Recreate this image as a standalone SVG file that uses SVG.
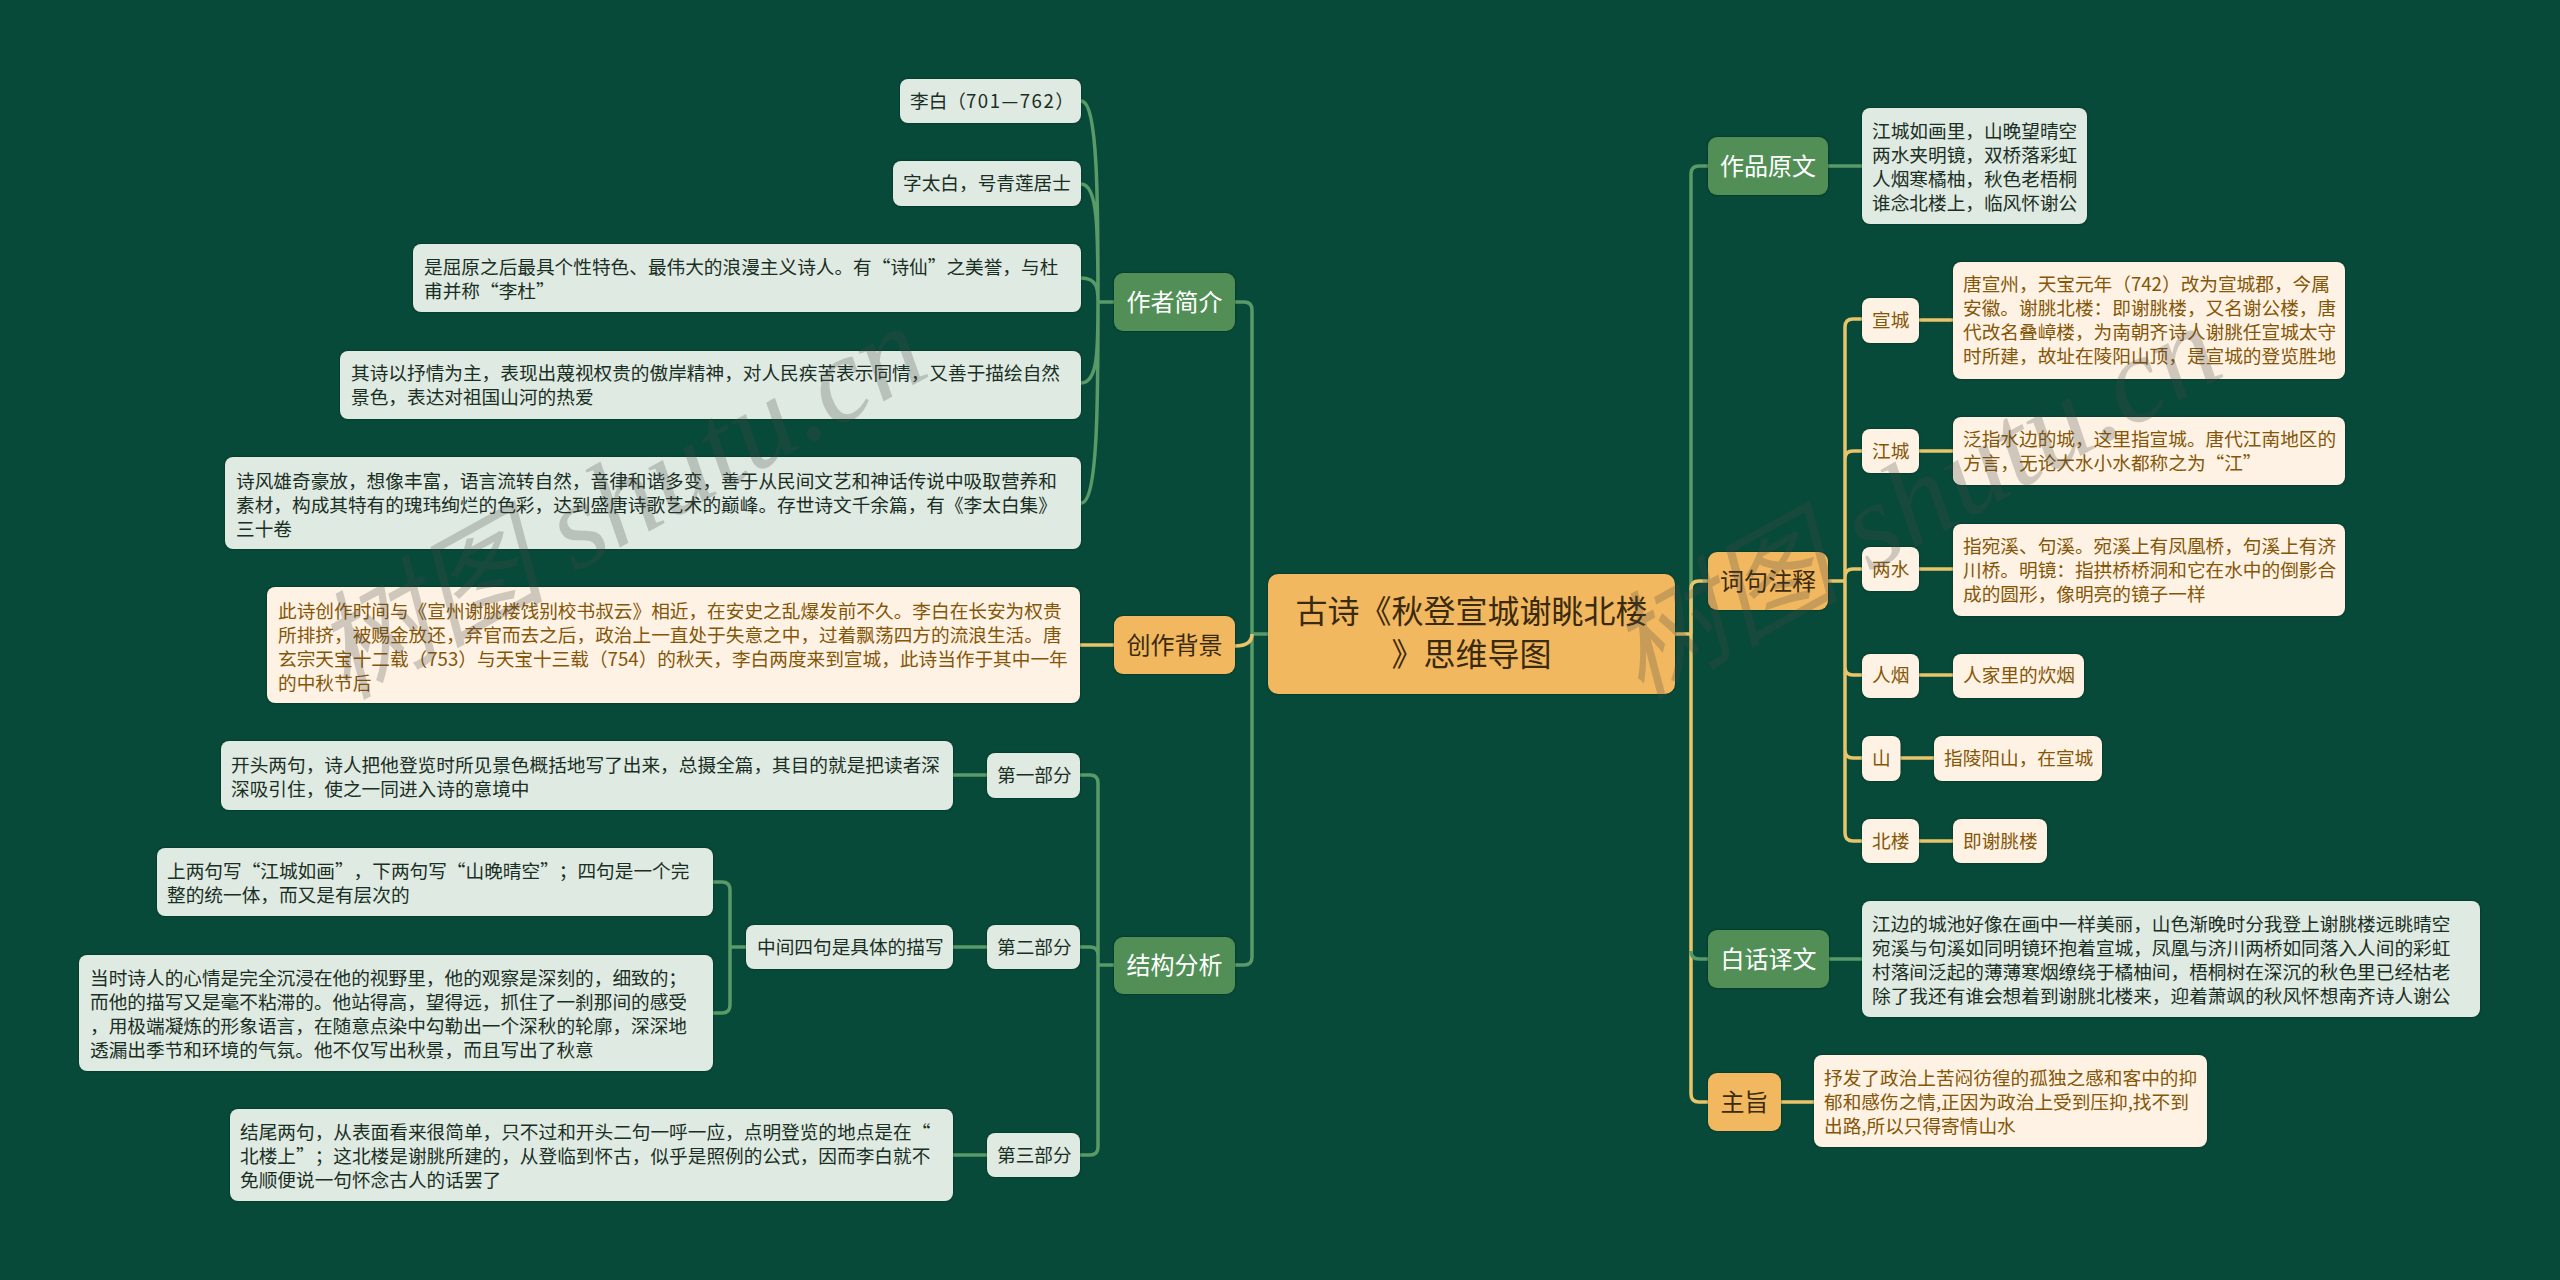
<svg xmlns="http://www.w3.org/2000/svg" width="2560" height="1280" viewBox="0 0 2560 1280">
<style>
text{font-family:"Noto Sans CJK SC","Liberation Sans",sans-serif;font-size:18.67px;text-spacing-trim:space-all}
rect.g1,rect.o1,rect.g2,rect.o2{filter:drop-shadow(0 0 1px rgba(0,20,10,.6))}
.g1{fill:#528f57}.o1{fill:#f2b85f}.g2{fill:#dfeae2}.o2{fill:#fdf2e3}
.tg{fill:#1a2f24}.to{fill:#855608}.tm{font-size:24px;text-anchor:middle}.tw{fill:#fff}.td{fill:#3a2a10}
.c{fill:none;stroke-width:3.5}.cg{stroke:#5a9a68}.co{stroke:#e9c46a}
text.wm{font-family:"Liberation Serif","Noto Sans CJK SC",serif;font-style:italic;font-size:122px;fill:#484848;fill-opacity:.25}
.wc{font-size:116px}
</style>
<rect width="2560" height="1280" fill="#074a39"/>
<g id="connectors">
<path class="c cg" d="M1268 634H1252M1252 634V310Q1252 302 1244 302H1235M1252 634V957Q1252 965 1244 965H1235"/>
<path class="c co" d="M1252 634Q1252 646 1235 646"/>
<path class="c cg" d="M1114 302H1098M1098 302C1098 200 1098 101 1081 101M1098 302C1098 230 1098 184 1081 184M1098 302C1098 290 1098 278 1081 278M1098 302C1098 350 1098 383 1081 383M1098 302C1098 400 1098 503 1081 503"/>
<path class="c co" d="M1114 645H1080"/>
<path class="c cg" d="M1114 965H1098M1080 775H1090Q1098 775 1098 783V1147Q1098 1155 1090 1155H1080M1080 947H1090Q1098 947 1098 955"/>
<path class="c cg" d="M987 775H953M987 947H953M987 1155H953M746 947H730M713 882H722Q730 882 730 890V1005Q730 1013 722 1013H713"/>
<path class="c cg" d="M1691 634V174Q1691 166 1699 166H1708M1828 166H1862"/>
<path class="c co" d="M1675 634H1691M1691 634V589Q1691 581 1699 581H1708M1691 634V1094Q1691 1102 1699 1102H1708M1781 1102H1814"/>
<path class="c cg" d="M1691 951Q1691 959 1699 959H1708M1829 959H1862"/>
<path class="c co" d="M1828 581H1845M1845 327Q1845 319 1853 319H1862M1845 327V833Q1845 841 1853 841H1862M1845 459Q1845 451 1853 451H1862M1845 577Q1845 569 1853 569H1862M1845 667Q1845 675 1853 675H1862M1845 750Q1845 758 1853 758H1862"/>
<path class="c co" d="M1919 320H1953M1919 451H1953M1919 569H1953M1919 675H1953M1900 758H1934M1919 841H1953"/>
</g>
<g id="root"><rect class="o1" x="1268" y="574" width="407" height="120" rx="10"/><text class="td" style="font-size:32px;text-anchor:middle" x="1471.5" y="623">古诗《秋登宣城谢眺北楼</text><text class="td" style="font-size:32px;text-anchor:middle" x="1471.5" y="666">》思维导图</text></g>
<g id="n-zuozhe"><rect class="g1" x="1114" y="273" width="121" height="58" rx="9"/><text class="tm tw" x="1174.5" y="310.5">作者简介</text></g>
<g id="n-beijing"><rect class="o1" x="1114" y="616" width="121" height="58" rx="9"/><text class="tm td" x="1174.5" y="653.5">创作背景</text></g>
<g id="n-jiegou"><rect class="g1" x="1114" y="937" width="121" height="57" rx="9"/><text class="tm tw" x="1174.5" y="974">结构分析</text></g>
<g id="n-yuanwen"><rect class="g1" x="1708" y="137" width="120" height="58" rx="9"/><text class="tm tw" x="1768" y="174.5">作品原文</text></g>
<g id="n-zhushi"><rect class="o1" x="1708" y="552" width="120" height="58" rx="9"/><text class="tm td" x="1768" y="589.5">词句注释</text></g>
<g id="n-yiwen"><rect class="g1" x="1708" y="930" width="121" height="58" rx="9"/><text class="tm tw" x="1768.5" y="967.5">白话译文</text></g>
<g id="n-zhuzhi"><rect class="o1" x="1708" y="1073" width="73" height="58" rx="9"/><text class="tm td" x="1744.5" y="1110.5">主旨</text></g>
<g id="a1"><rect class="g2" x="900" y="79" width="181" height="44" rx="8"/><text class="tg" x="910" y="107.5">李白（<tspan letter-spacing="1.5">701—762</tspan>）</text></g>
<g id="a2"><rect class="g2" x="893" y="161" width="188" height="45" rx="8"/><text class="tg" x="903" y="190">字太白，号青莲居士</text></g>
<g id="a3"><rect class="g2" x="413" y="244" width="668" height="68" rx="8"/><text class="tg" x="424" y="273.5">是屈原之后最具个性特色、最伟大的浪漫主义诗人。有“诗仙”之美誉，与杜</text><text class="tg" x="424" y="297.5">甫并称“李杜”</text></g>
<g id="a4"><rect class="g2" x="340" y="351" width="741" height="68" rx="8"/><text class="tg" x="351" y="379.5">其诗以抒情为主，表现出蔑视权贵的傲岸精神，对人民疾苦表示同情，又善于描绘自然</text><text class="tg" x="351" y="403.5">景色，表达对祖国山河的热爱</text></g>
<g id="a5"><rect class="g2" x="225" y="457" width="856" height="92" rx="8"/><text class="tg" x="236" y="487.5">诗风雄奇豪放，想像丰富，语言流转自然，音律和谐多变，善于从民间文艺和神话传说中吸取营养和</text><text class="tg" x="236" y="511.5">素材，构成其特有的瑰玮绚烂的色彩，达到盛唐诗歌艺术的巅峰。存世诗文千余篇，有《李太白集》</text><text class="tg" x="236" y="535.5">三十卷</text></g>
<g id="b1"><rect class="o2" x="267" y="587" width="813" height="116" rx="8"/><text class="to" x="278" y="617.5">此诗创作时间与《宣州谢朓楼饯别校书叔云》相近，在安史之乱爆发前不久。李白在长安为权贵</text><text class="to" x="278" y="641.5">所排挤，被赐金放还，弃官而去之后，政治上一直处于失意之中，过着飘荡四方的流浪生活。唐</text><text class="to" x="278" y="665.5">玄宗天宝十二载（753）与天宝十三载（754）的秋天，李白两度来到宣城，此诗当作于其中一年</text><text class="to" x="278" y="689.5">的中秋节后</text></g>
<g id="s1"><rect class="g2" x="987" y="753" width="93" height="45" rx="8"/><text class="tg" x="997" y="782">第一部分</text></g>
<g id="s2"><rect class="g2" x="987" y="925" width="93" height="44" rx="8"/><text class="tg" x="997" y="953.5">第二部分</text></g>
<g id="s3"><rect class="g2" x="987" y="1133" width="93" height="44" rx="8"/><text class="tg" x="997" y="1161.5">第三部分</text></g>
<g id="s2m"><rect class="g2" x="746" y="925" width="207" height="44" rx="8"/><text class="tg" x="757" y="953.5">中间四句是具体的描写</text></g>
<g id="s1t"><rect class="g2" x="221" y="741" width="732" height="69" rx="8"/><text class="tg" x="231" y="771.5">开头两句，诗人把他登览时所见景色概括地写了出来，总摄全篇，其目的就是把读者深</text><text class="tg" x="231" y="795.5">深吸引住，使之一同进入诗的意境中</text></g>
<g id="s2a"><rect class="g2" x="157" y="848" width="556" height="68" rx="8"/><text class="tg" x="167" y="877.5">上两句写“江城如画”，下两句写“山晚晴空”；四句是一个完</text><text class="tg" x="167" y="901.5">整的统一体，而又是有层次的</text></g>
<g id="s2b"><rect class="g2" x="79" y="955" width="634" height="116" rx="8"/><text class="tg" x="90" y="984.5">当时诗人的心情是完全沉浸在他的视野里，他的观察是深刻的，细致的；</text><text class="tg" x="90" y="1008.5">而他的描写又是毫不粘滞的。他站得高，望得远，抓住了一刹那间的感受</text><text class="tg" x="90" y="1032.5">，用极端凝炼的形象语言，在随意点染中勾勒出一个深秋的轮廓，深深地</text><text class="tg" x="90" y="1056.5">透漏出季节和环境的气氛。他不仅写出秋景，而且写出了秋意</text></g>
<g id="s3t"><rect class="g2" x="230" y="1109" width="723" height="92" rx="8"/><text class="tg" x="240" y="1138.5">结尾两句，从表面看来很简单，只不过和开头二句一呼一应，点明登览的地点是在“</text><text class="tg" x="240" y="1162.5">北楼上”；这北楼是谢朓所建的，从登临到怀古，似乎是照例的公式，因而李白就不</text><text class="tg" x="240" y="1186.5">免顺便说一句怀念古人的话罢了</text></g>
<g id="r1"><rect class="g2" x="1862" y="108" width="225" height="116" rx="8"/><text class="tg" x="1872" y="137.5">江城如画里，山晚望晴空</text><text class="tg" x="1872" y="161.5">两水夹明镜，双桥落彩虹</text><text class="tg" x="1872" y="185.5">人烟寒橘柚，秋色老梧桐</text><text class="tg" x="1872" y="209.5">谁念北楼上，临风怀谢公</text></g>
<g id="w1"><rect class="o2" x="1862" y="298" width="57" height="45" rx="8"/><text class="to" x="1872" y="327">宣城</text></g>
<g id="w1t"><rect class="o2" x="1953" y="262" width="392" height="117" rx="8"/><text class="to" x="1963" y="291">唐宣州，天宝元年（742）改为宣城郡，今属</text><text class="to" x="1963" y="315">安徽。谢朓北楼：即谢朓楼，又名谢公楼，唐</text><text class="to" x="1963" y="339">代改名叠嶂楼，为南朝齐诗人谢朓任宣城太守</text><text class="to" x="1963" y="363">时所建，故址在陵阳山顶，是宣城的登览胜地</text></g>
<g id="w2"><rect class="o2" x="1862" y="429" width="57" height="44" rx="8"/><text class="to" x="1872" y="457.5">江城</text></g>
<g id="w2t"><rect class="o2" x="1953" y="417" width="392" height="68" rx="8"/><text class="to" x="1963" y="445.5">泛指水边的城，这里指宣城。唐代江南地区的</text><text class="to" x="1963" y="469.5">方言，无论大水小水都称之为“江”</text></g>
<g id="w3"><rect class="o2" x="1862" y="547" width="57" height="44" rx="8"/><text class="to" x="1872" y="575.5">两水</text></g>
<g id="w3t"><rect class="o2" x="1953" y="524" width="392" height="92" rx="8"/><text class="to" x="1963" y="552.5">指宛溪、句溪。宛溪上有凤凰桥，句溪上有济</text><text class="to" x="1963" y="576.5">川桥。明镜：指拱桥桥洞和它在水中的倒影合</text><text class="to" x="1963" y="600.5">成的圆形，像明亮的镜子一样</text></g>
<g id="w4"><rect class="o2" x="1862" y="654" width="57" height="44" rx="8"/><text class="to" x="1872" y="682">人烟</text></g>
<g id="w4t"><rect class="o2" x="1953" y="654" width="131" height="44" rx="8"/><text class="to" x="1963" y="682">人家里的炊烟</text></g>
<g id="w5"><rect class="o2" x="1862" y="736" width="38.500" height="45" rx="8"/><text class="to" x="1872" y="765">山</text></g>
<g id="w5t"><rect class="o2" x="1934" y="736" width="168" height="45" rx="8"/><text class="to" x="1944" y="765">指陵阳山，在宣城</text></g>
<g id="w6"><rect class="o2" x="1862" y="819" width="57" height="44" rx="8"/><text class="to" x="1872" y="847.5">北楼</text></g>
<g id="w6t"><rect class="o2" x="1953" y="819" width="94" height="44" rx="8"/><text class="to" x="1963" y="847.5">即谢朓楼</text></g>
<g id="y1"><rect class="g2" x="1862" y="901" width="618" height="116" rx="8"/><text class="tg" x="1872" y="931">江边的城池好像在画中一样美丽，山色渐晚时分我登上谢朓楼远眺晴空</text><text class="tg" x="1872" y="955">宛溪与句溪如同明镜环抱着宣城，凤凰与济川两桥如同落入人间的彩虹</text><text class="tg" x="1872" y="979">村落间泛起的薄薄寒烟缭绕于橘柚间，梧桐树在深沉的秋色里已经枯老</text><text class="tg" x="1872" y="1003">除了我还有谁会想着到谢朓北楼来，迎着萧飒的秋风怀想南齐诗人谢公</text></g>
<g id="z1"><rect class="o2" x="1814" y="1055" width="393" height="92" rx="8"/><text class="to" x="1824" y="1085">抒发了政治上苦闷彷徨的孤独之感和客中的抑</text><text class="to" x="1824" y="1109">郁和感伤之情,正因为政治上受到压抑,找不到</text><text class="to" x="1824" y="1133">出路,所以只得寄情山水</text></g>
<g id="watermarks"><text class="wm" transform="translate(345 700) rotate(-29)"><tspan class="wc">树图</tspan> shutu.cn</text><text class="wm" transform="translate(1640 700) rotate(-29)"><tspan class="wc">树图</tspan> shutu.cn</text></g>
</svg>
